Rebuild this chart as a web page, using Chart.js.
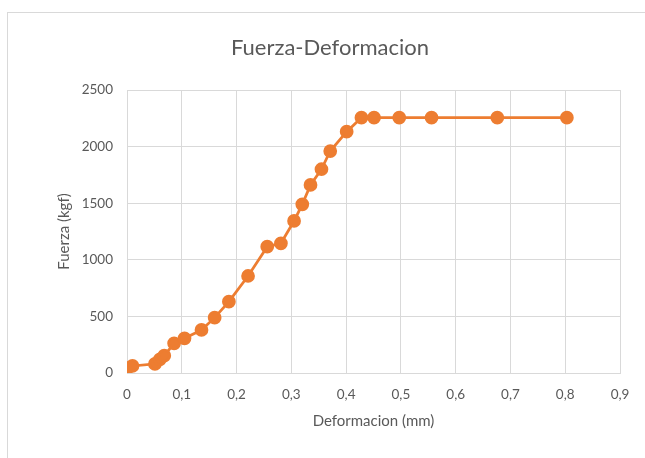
<!DOCTYPE html>
<html>
<head>
<meta charset="utf-8">
<script src="https://cdn.jsdelivr.net/npm/chart.js@4/dist/chart.umd.min.js"></script>
<style>
  html, body { margin: 0; padding: 0; background: #ffffff; }
  #wrap { position: relative; width: 645px; height: 458px; }
  #frame { position: absolute; left: 7px; top: 12px; width: 638px; height: 446px;
           border-left: 1px solid #d9d9d9; border-top: 1px solid #d9d9d9; box-sizing: border-box; }
  canvas { position: absolute; left: 0; top: 0; }
</style>
</head>
<body>
<div id="wrap">
  <div id="frame"></div>
  <canvas id="c" width="645" height="458"></canvas>
</div>
<script>
const deformacion = [0, 0.01, 0.051, 0.06, 0.068, 0.086, 0.105, 0.136, 0.16, 0.186, 0.221, 0.256, 0.281, 0.305, 0.32, 0.335, 0.355, 0.371, 0.401, 0.428, 0.451, 0.497, 0.556, 0.676, 0.803];
const fuerza = [41, 62, 80, 121, 153, 262, 306, 380, 489, 630, 857, 1116, 1146, 1343, 1490, 1661, 1800, 1961, 2132, 2255, 2255, 2255, 2255, 2255, 2255];
const xTicks = [0, 0.1, 0.2, 0.3, 0.4, 0.5, 0.6, 0.7, 0.8, 0.9];
const yTicks = [0, 500, 1000, 1500, 2000, 2500];

const points = deformacion.map((x, i) => ({ x: x, y: fuerza[i] }));
const txt = '#595959';
const fontFam = 'Lato, "Open Sans", sans-serif';

new Chart(document.getElementById('c'), {
  type: 'scatter',
  data: {
    datasets: [{
      label: 'Fuerza',
      data: points,
      showLine: true,
      borderColor: '#ED7D31',
      backgroundColor: '#ED7D31',
      borderWidth: 2.75,
      pointRadius: 5.5,
      pointHoverRadius: 5.5,
      tension: 0
    }]
  },
  options: {
    responsive: false,
    animation: false,
    layout: { padding: { left: 40, right: 25, top: 0, bottom: 0 } },
    plugins: {
      legend: { display: false },
      tooltip: { enabled: false },
      title: {
        display: true,
        text: 'Fuerza-Deformacion',
        color: txt,
        font: { family: fontFam, size: 22, weight: 'normal' },
        padding: { top: 35, bottom: 28.6 }
      }
    },
    scales: {
      x: {
        type: 'linear',
        min: 0, max: 0.9,
        afterBuildTicks: s => { s.ticks = xTicks.map(v => ({ value: v })); },
        afterFit: s => { s.height = 85; },
        grid: { color: '#d9d9d9', drawTicks: false, lineWidth: 1 },
        border: { color: '#d9d9d9' },
        ticks: {
          color: txt, font: { family: fontFam, size: 13.5 }, padding: 14,
          callback: v => String(Math.round(v * 10) / 10).replace('.', ',')
        },
        title: {
          display: true, text: 'Deformacion (mm)', color: txt,
          font: { family: fontFam, size: 15 }, padding: { top: 0, bottom: 28 }
        }
      },
      y: {
        min: 0, max: 2500,
        afterBuildTicks: s => { s.ticks = yTicks.map(v => ({ value: v })); },
        afterFit: s => { s.width = 87; },
        grid: { color: '#d9d9d9', drawTicks: false, lineWidth: 1 },
        border: { display: false },
        ticks: {
          color: txt, font: { family: fontFam, size: 13.5 }, padding: 14,
          callback: v => String(v)
        },
        title: {
          display: true, text: 'Fuerza (kgf)', color: txt,
          font: { family: fontFam, size: 15 }, padding: { top: 15, bottom: 0 }
        }
      }
    }
  }
});
</script>
</body>
</html>
